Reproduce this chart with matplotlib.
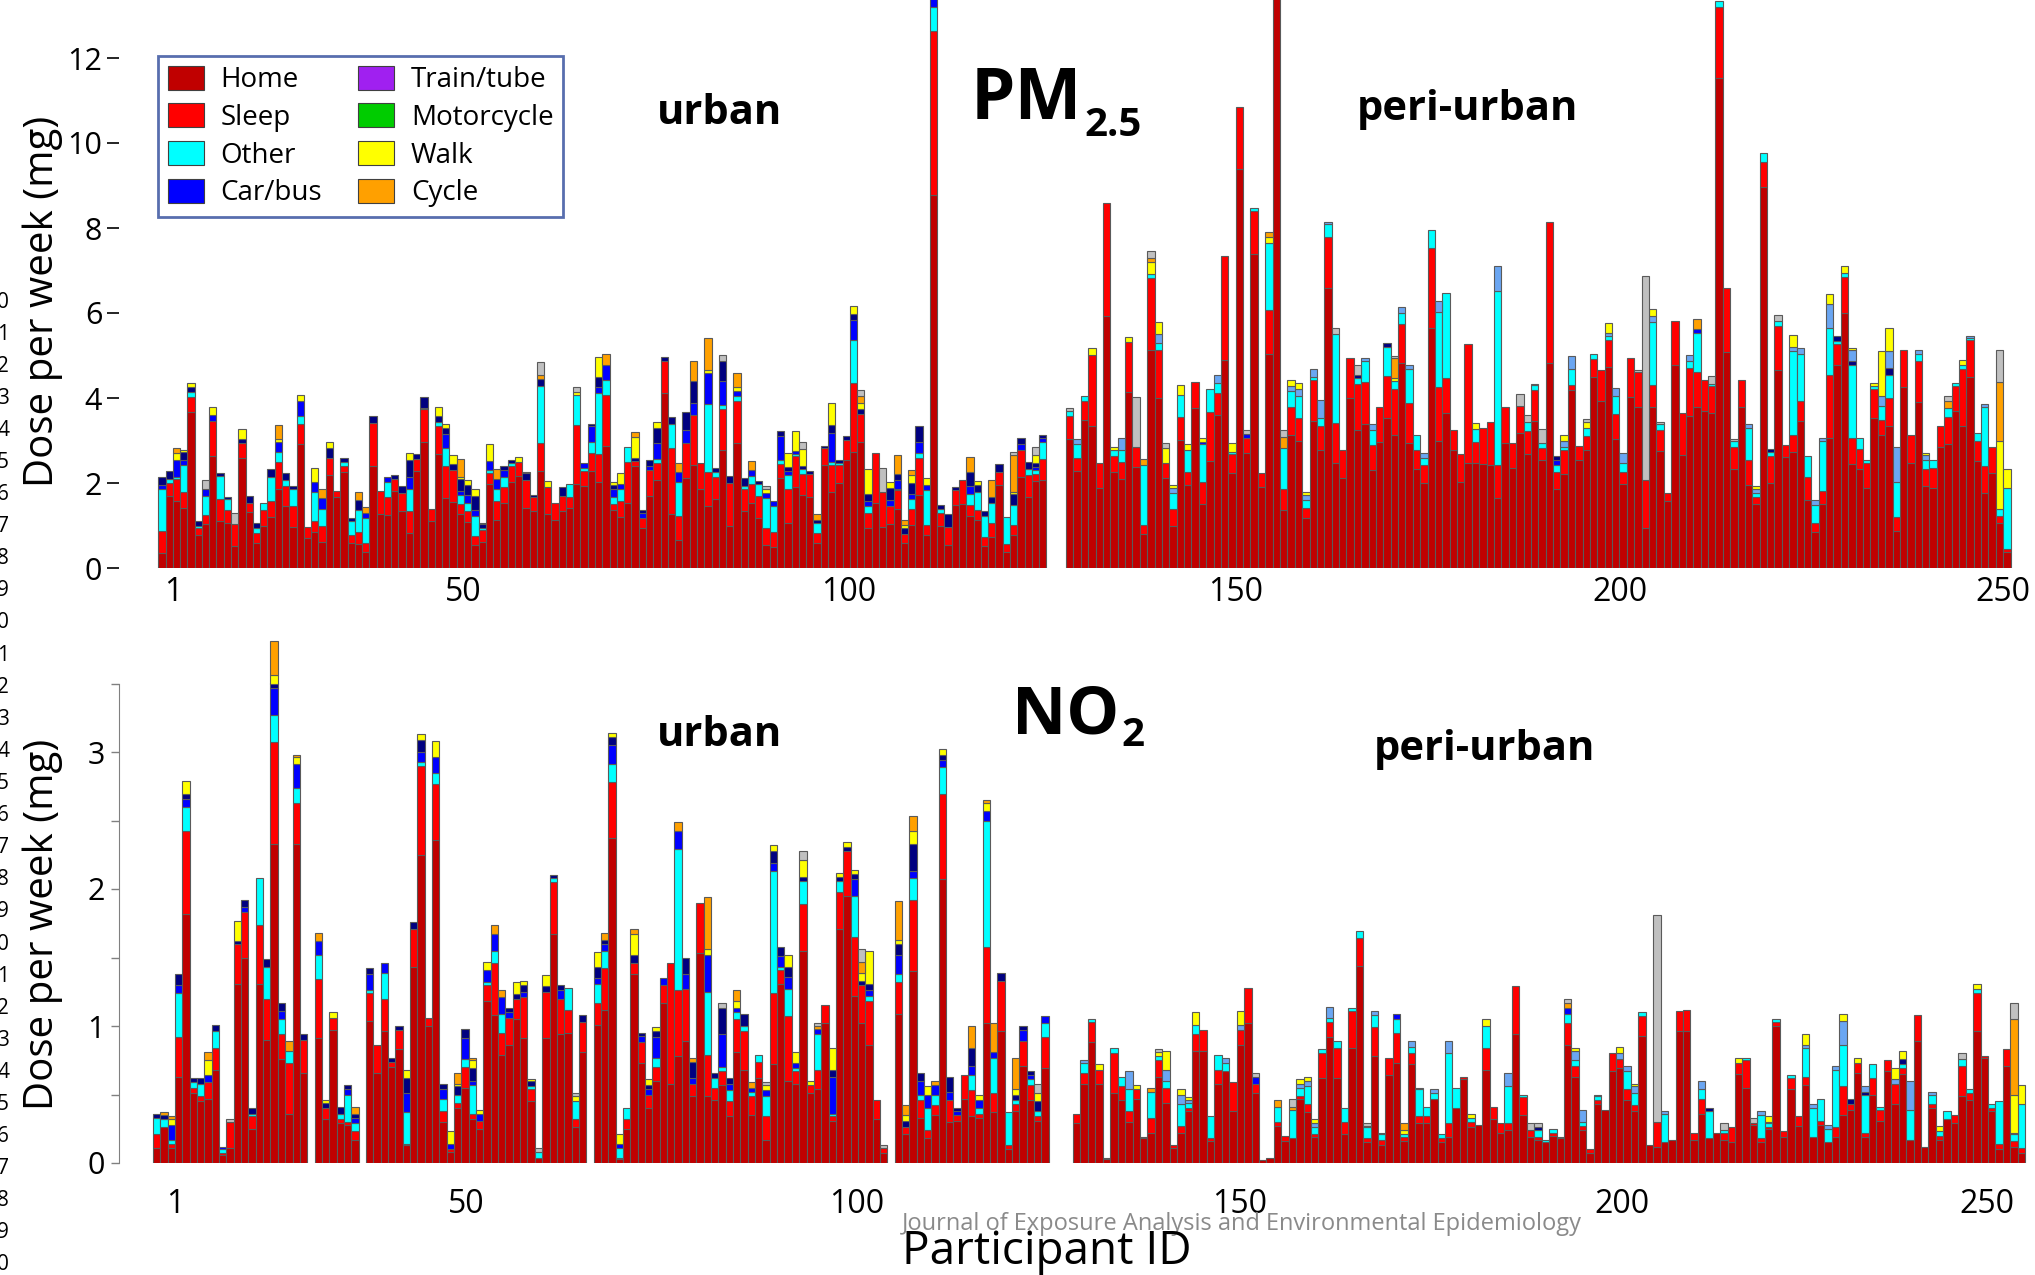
import numpy as np
import matplotlib
matplotlib.use('Agg')
import matplotlib.pyplot as plt
from matplotlib.patches import Patch

plt.rcParams['font.family'] = ['Open Sans', 'DejaVu Sans']

# ---------------- DATA ----------------
# Bars 1-122 = urban participants, bars 123-250 = peri-urban participants
N_URBAN = 122
N_PERI = 128

# ---- PM2.5 (mg / week) ----
PM_HOME_URBAN = [
    .35, 1.69, 1.58, 1.42, 3.66, .77, 1.03, 2.64, 1.11, 1.07,
    .52, 2.6, 1.31, .58, 1.0, 1.19, 1.85, 1.47, .96, 2.91,
    .71, .85, .62, 2.19, 1.66, 2.27, .58, .56, .38, 2.4,
    1.26, 1.24, 1.81, 1.34, .83, 2.29, 2.96, 1.11, 2.68, 1.65,
    1.55, 1.26, 1.09, .54, .62, 1.98, 1.13, 1.54, 2.03, 2.16,
    1.42, 1.35, 2.29, 1.26, 1.13, 1.34, 1.42, 1.98, 1.93, 2.28,
    2.03, 2.87, 1.36, 1.19, 1.52, 2.40, .93, 1.70, 2.07, 4.11,
    1.27, .66, 2.11, 2.42, 1.85, 1.47, 1.62, 2.78, .99, 2.93,
    1.34, 1.52, 1.17, .54, .50, 2.11, 1.05, 1.90, 1.72, 1.67,
    .58, 2.42, 1.79, 2.0, 2.55, 2.73, 2.96, .93, 1.52, .96,
    1.03, 1.39, .58, 1.02, 1.72, .78, 8.77, .98, .54, 1.48,
    1.51, 1.22, 1.13, .52, .74, 1.96, .37, .78, 2.13, 1.66,
    2.05, 2.06]
PM_HOME_PERI = [
    3.03, 2.29, 3.48, 3.35, 1.88, 5.92, 2.26, 2.09, 4.14, 2.37,
    .80, 5.12, 4.01, 2.11, .98, 3.01, 1.96, 3.77, 1.50, 2.52,
    3.61, 4.90, 2.23, 9.40, 2.70, 7.39, 1.91, 5.03, 14.0, 1.37,
    3.13, 3.0, 1.18, 3.46, 2.78, 6.59, 2.46, 2.11, 3.99, 3.25,
    3.38, 2.30, 2.97, 3.53, 3.14, 4.82, 2.95, 2.34, 1.99, 5.65,
    2.99, 3.64, 2.77, 2.03, 2.47, 2.47, 2.45, 2.42, 1.64, 2.95,
    2.35, 3.18, 2.69, 3.47, 2.54, 4.82, 1.86, 2.21, 4.2, 2.53,
    2.77, 4.49, 3.92, 4.73, 3.03, 1.97, 4.02, 3.79, .94, 3.78,
    2.76, 1.58, 4.78, 2.66, 3.58, 3.79, 3.70, 3.64, 11.52, 5.08,
    2.33, 3.79, 1.95, 1.50, 8.96, 2.01, 4.66, 2.61, 2.74, 3.45,
    1.59, .85, 1.50, 3.07, 4.77, 5.99, 2.44, 2.33, 1.89, 3.53,
    3.13, 3.35, .87, 4.25, 2.48, 3.90, 1.94, 1.89, 2.85, 2.91,
    3.70, 3.33, 4.49, 2.52, 1.76, 2.23, 1.05, .37]
PM_SLEEP_URBAN = [
    .53, .31, .51, .36, .37, .16, .22, .82, .51, .29,
    .51, .33, .23, .25, .36, .39, .64, .47, .51, .47,
    .26, .26, .38, .41, .16, .13, .20, .28, .20, 1.02,
    .56, .44, .28, .42, .51, .27, .77, .29, .65, .76,
    .76, .24, .26, .21, .27, .25, .45, .37, .37, .34,
    .65, .31, .64, .65, .41, .35, .26, 1.38, .35, .42,
    .65, 1.20, .15, .39, .98, .12, .24, .61, .39, .77,
    1.55, .56, .82, 1.18, .61, .78, .51, .95, 1.0, 1.01,
    .53, .46, .52, .39, .34, .33, .80, .74, .50, .55,
    .25, .41, .63, .42, .47, 1.63, .67, .36, 1.18, .84,
    .42, .44, .23, .37, .88, .24, 3.86, .31, .42, .35,
    .55, .26, .24, .22, .31, .30, .20, .24, .64, .52,
    .17, .51]
PM_SLEEP_PERI = [
    .55, .30, .46, 1.66, .60, 2.67, .38, .41, 1.18, .47,
    .22, 1.70, 1.11, .35, .41, .54, .31, .61, .52, 1.16,
    .51, 2.45, .45, 1.44, .35, 1.02, .32, 1.03, 0, .50,
    .66, .53, .23, .96, .57, 1.19, .96, .66, .96, 1.09,
    1.0, .60, .82, .98, 1.07, .93, .94, .43, .43, 1.89,
    1.28, .83, .48, .66, 2.79, .50, .85, 1.01, .78, .85,
    .58, .64, .54, .72, .28, 3.33, .39, .56, .1, .33,
    .33, .42, .75, .63, .59, .28, .93, .83, 1.12, .52,
    .49, .19, 1.04, .98, 1.13, .83, .73, .65, 1.68, 1.52,
    .52, .63, .60, .18, .60, .63, 1.03, .29, .38, .49,
    .55, .21, .31, 1.48, .50, .85, .63, .48, .57, .69,
    .36, .64, .33, .87, .64, .96, .39, .47, .50, .64,
    .59, 1.36, .87, .46, .63, .62, .17, .08]
PM_OTHER_URBAN = [
    .97, .09, .04, .64, .10, .07, .44, 0, .54, .26,
    0, 0, 0, .10, .16, .57, .23, .13, .38, .20,
    0, .69, .40, 0, 0, .10, .33, .52, .59, 0,
    0, .35, 0, 0, .53, 0, .04, 0, .11, .41,
    0, .22, .19, .47, .04, .08, .29, .22, .06, 0,
    0, 0, 1.35, 0, 0, 0, .30, .71, .08, .27,
    1.43, .35, .15, .27, .35, 0, 0, 0, .10, 0,
    .58, .81, 0, 0, 0, 1.62, .14, .11, 0, .11,
    .05, .19, .29, .72, .62, .10, .34, .04, .11, 0,
    .22, 0, .08, .06, 0, 1.0, 0, .17, 0, 0,
    0, .04, 0, .24, .10, .81, .57, .09, 0, 0,
    0, .26, .43, .48, .47, 0, .62, .46, 0, .15,
    .08, .39]
PM_OTHER_PERI = [
    .12, .32, .11, 0, 0, 0, .13, .28, 0, 0,
    1.40, .09, .18, 0, .37, .51, .50, 0, .90, .53,
    .23, 0, .05, 0, 0, .07, 0, 1.58, 0, .96,
    .37, .52, .18, .07, .18, .31, 2.08, 0, 0, .13,
    .48, .35, 0, .68, .18, .25, .80, .35, .18, .42,
    1.75, 2.01, 0, 0, 0, .30, 0, 0, 4.10, 0,
    0, 0, .20, .11, .13, 0, .17, .07, .39, 0,
    .20, .13, 0, .10, .42, .22, 0, 0, 0, 1.48,
    .13, 0, 0, 0, .15, .92, 0, .04, .15, 0,
    .13, 0, .74, .08, .20, .08, .13, 0, 1.98, 1.09,
    .50, .42, 1.17, 1.10, .07, .09, 1.70, .26, .09, .06,
    .32, .56, .82, 0, 0, .17, .22, .19, 0, .22,
    .07, .08, .06, .20, 1.40, 0, .18, 1.44]
# sparse layers: {bar number (1-250): dose}
PM_CARBUS = {1: .10, 3: .41, 4: .12, 7: .16, 8: .14, 17: .24, 20: .36, 22: .23, 23: .24,
             29: .12, 32: .12, 35: .28, 40: .33, 42: .10, 43: .18, 44: .14, 46: .21,
             47: .22, 48: .18, 59: .12, 60: .36, 61: .14, 62: .36, 63: .21, 64: .12,
             67: .12, 68: .10, 69: .37, 72: .24, 73: .32, 74: .29, 76: .73, 78: .57,
             80: .11, 82: .14, 84: .12, 85: .12, 86: .57, 87: .09, 88: .08, 93: .68,
             96: .48, 98: .11, 101: .16, 102: .20, 104: .11, 105: .26, 106: .13,
             107: .50, 112: .18, 119: .15, 121: .08, 122: .11,
             141: .05, 147: .11, 189: .13, 208: .08}
PM_NAVY = {1: .18, 2: .19, 4: .18, 5: .12, 6: .11, 9: .08, 10: .06, 12: .11, 13: .16,
           14: .14, 16: .17, 18: .17, 19: .09, 24: .22, 26: .10, 27: .07, 28: .24,
           30: .16, 33: .10, 34: .18, 35: .39, 36: .12, 37: .26, 39: .14, 40: .14,
           41: .13, 42: .27, 43: .23, 44: .33, 45: .11, 48: .10, 49: .08, 51: .16,
           52: .06, 53: .17, 56: .22, 60: .07, 61: .24, 63: .08, 66: .08, 67: .07,
           68: .13, 69: .36, 70: .09, 71: .15, 73: .43, 74: .51, 77: .08, 78: .47,
           79: .17, 81: .19, 83: .07, 86: .12, 87: .10, 89: .08, 90: .07, 91: .08,
           92: .04, 93: .19, 94: .06, 95: .09, 96: .13, 97: .12, 98: .17, 101: .28,
           102: .15, 103: .12, 104: .26, 105: .39, 108: .10, 109: .30, 110: .07,
           112: .34, 113: .16, 114: .11, 115: .14, 116: .18, 118: .26, 119: .13,
           120: .17, 121: .08, 122: .07,
           162: .08, 166: .11, 189: .09, 218: .09, 227: .11, 229: .09, 234: .15}
PM_LTBLUE = {124: .12, 130: .27, 135: .20, 137: .13, 143: .20, 153: .13, 154: .17,
             155: .13, 156: .20, 157: .43, 158: .06, 163: .09, 164: .13, 168: .15,
             169: .09, 171: .11, 173: .27, 181: .59, 190: .15, 191: .31, 196: .06,
             197: .19, 198: .24, 202: .15, 207: .15, 215: .10, 216: .09, 221: .11,
             222: .14, 224: .11, 225: .09, 226: .56, 229: .26, 233: .24, 234: .40,
             235: .82, 238: .11, 239: .10, 245: .05, 247: .07}
PM_WALK = {3: .17, 4: .06, 5: .10, 8: .18, 12: .22, 17: .07, 20: .13, 22: .32, 24: .14,
           35: .16, 39: .22, 40: .10, 41: .23, 42: .05, 43: .12, 44: .18, 45: .03,
           46: .40, 50: .12, 51: .04, 54: .14, 58: .08, 61: .48, 63: .07, 64: .26,
           66: .49, 69: .15, 76: .07, 80: .11, 84: .09, 87: .33, 88: .46, 89: .38,
           93: .52, 96: .19, 97: .13, 98: .59, 101: .13, 103: .09, 104: .18, 106: .15,
           113: .09, 118: .06, 121: .20,
           126: .16, 129: .07, 131: .11, 134: .28, 135: .28, 136: .37, 137: .06,
           138: .25, 139: .15, 141: .08, 145: .21, 150: .14, 153: .13, 154: .13,
           155: .07, 167: .08, 178: .14, 186: .04, 190: .13, 193: .13, 196: .24,
           202: .16, 216: .09, 221: .28, 226: .24, 228: .17, 229: .06, 232: .07,
           233: 1.05, 234: .55, 239: .06, 244: .12, 249: 1.58, 250: .44}
PM_CYCLE = {3: .12, 17: .33, 23: .21, 28: .18, 29: .14, 42: .42, 47: .24, 53: .09,
            62: .26, 66: .12, 72: .21, 74: .47, 76: .75, 80: .31, 82: .21, 91: .13,
            97: .17, 102: .45, 103: .11, 104: .13, 112: .35, 115: .41, 118: .87,
            133: .15, 134: .11, 150: .13, 152: .26, 167: .48, 208: .23, 242: .16,
            249: 1.40}
PM_GREY = {7: .22, 11: .27, 53: .31, 58: .12, 78: .13, 84: .08, 89: .17, 97: .13,
           100: .55, 118: .07, 121: .19,
           123: .07, 132: 1.19, 134: .16, 136: .11, 147: .09, 152: .16, 159: .15,
           162: .22, 167: .05, 184: .27, 185: .17, 187: .33, 193: .08, 200: .04,
           201: 4.81, 203: .06, 210: .18, 213: .05, 219: .13, 242: .12, 249: .74}

# ---- NO2 (mg / week) ----
NO2_HOME_URBAN = [
    .11, .26, .11, .63, 1.82, .51, .45, .47, .68, .06,
    .11, 1.31, 1.50, .25, 1.31, .90, 2.33, .76, .36, 2.33,
    .66, 0, .91, .32, .97, .29, .28, .17, 0, 1.04,
    .66, .96, .70, .83, .13, 1.43, 2.25, 1.0, 2.36, .30,
    .08, .40, .55, .32, .25, 1.18, 1.08, .79, .86, 1.05,
    .91, .45, .04, .91, 1.67, .94, .95, .26, .81, 0,
    1.01, 1.12, 2.37, .03, .25, 1.38, .73, .40, .60, 1.17,
    .58, .78, .89, .49, 1.53, .49, .46, .57, .34, .81,
    .68, .35, .62, .17, .72, 1.31, .60, .58, 1.55, .51,
    .54, 1.02, .31, 1.71, 1.95, 1.22, 1.02, .86, .32, .07,
    0, 1.09, .21, 1.40, .33, .18, .35, 2.07, .30, .31,
    .47, .34, .33, 1.02, .37, .96, .10, .38, .71, .46,
    .31, .69]
NO2_HOME_PERI = [
    .29, .58, .88, .58, .03, .51, .46, .30, .47, .18,
    .22, .63, .44, .11, .22, .38, .82, .82, .16, .58,
    .67, .38, .86, 1.02, .51, .02, .04, .27, .16, .18,
    .47, .37, .19, .62, .92, .62, .21, .84, 1.44, .15,
    .78, .13, .64, .73, .16, .72, .29, .29, .47, .15,
    .19, .40, .61, .26, .28, .68, .32, .22, .24, .94,
    .35, .19, .17, .15, .20, .18, .86, .63, .24, .07,
    .43, .39, .67, .69, .46, .38, .93, .13, .12, .15,
    .17, .96, .96, .17, .36, .18, .22, .17, .15, .65,
    .55, .28, .15, .25, 1.0, .19, .54, .27, .57, .19,
    .28, .15, .19, .35, .39, .66, .19, .50, .31, .67,
    .43, .65, .17, .89, .12, .40, .17, .32, .29, .49,
    .46, .96, .77, .38, .10, .71, .12, .07]
NO2_SLEEP_URBAN = [
    .10, 0, .03, .29, .60, .04, .04, .12, .16, .01,
    .19, .29, .33, .09, .43, .30, .74, .18, .37, .30,
    .24, 0, .43, .08, .09, .03, .02, .06, 0, .20,
    .20, .24, .04, .14, .01, .28, .65, .06, .41, .08,
    .02, .04, .15, .04, .06, .12, .38, .16, .20, .15,
    .30, .09, 0, .34, .38, .26, .17, .06, .22, 0,
    .16, .30, .41, .01, .07, .08, .15, .10, .10, .13,
    .88, .48, .38, .09, .37, .30, .09, .10, .11, .24,
    .28, .14, .12, .17, .52, .10, .47, .09, .34, .06,
    .14, .13, .03, .27, .33, .43, .28, .32, .14, .04,
    0, .23, .05, .52, .13, .06, .07, .62, .16, .04,
    .17, .19, .03, .56, .14, .37, .03, .05, .18, .11,
    .03, .23]
NO2_SLEEP_PERI = [
    .07, .08, .15, .10, .01, .29, .10, .08, .07, .01,
    .11, .12, .11, .02, .05, .02, .12, .15, .02, .10,
    0, .21, .11, .26, .07, 0, 0, .03, .04, 0,
    .02, .06, .02, .18, .11, .22, .09, .27, .20, .03,
    .21, .04, .13, .22, .03, .08, .05, .05, 0, .03,
    .10, 0, .02, .04, 0, .16, .09, .07, .05, .35,
    .13, .05, .02, 0, .02, .01, .16, .08, .03, .03,
    .03, 0, .13, .07, .08, .04, .14, 0, .18, 0,
    0, .15, .16, .05, .11, 0, 0, .05, .11, .08,
    .20, .01, .03, .01, .03, .04, .08, .07, .06, 0,
    .03, 0, .07, .21, .04, .07, .03, .12, .08, .08,
    .15, .04, 0, .19, 0, .03, .03, 0, .06, .22,
    .05, .28, .01, .02, .04, .12, .04, .04]
NO2_OTHER_URBAN = [
    .12, .06, .03, .32, .18, .04, .09, 0, .12, .03,
    0, 0, 0, .02, .34, .23, .20, .11, .09, .11,
    0, 0, .18, 0, 0, .04, .20, .06, 0, .02,
    0, .19, 0, 0, .23, 0, .03, 0, .08, .09,
    0, .06, .06, .21, 0, .02, .09, .14, 0, 0,
    0, .02, .04, 0, .03, 0, .16, .13, 0, 0,
    .14, .13, .13, .07, .08, 0, 0, 0, .07, 0,
    0, 1.03, 0, 0, 0, .46, .07, .03, .08, .05,
    .04, .03, .05, .15, .89, .02, .20, .02, .17, 0,
    .26, 0, .02, .08, 0, .30, 0, .04, 0, 0,
    0, .06, 0, .16, .04, .16, .08, .20, 0, 0,
    0, .11, .04, .92, .26, 0, .24, .03, 0, .04,
    .04, .10]
NO2_OTHER_PERI = [
    0, .07, .02, 0, 0, .04, .07, .16, 0, 0,
    .19, .03, .05, 0, .16, .04, .07, 0, .16, .11,
    .06, 0, 0, 0, 0, 0, 0, .11, 0, .21,
    .06, .13, .05, .03, .03, .05, .10, .02, .05, .08,
    .09, .04, 0, .10, .02, .05, .20, .07, .04, .03,
    .51, .15, 0, .03, 0, .16, 0, 0, .27, 0,
    .02, 0, .05, .02, .03, 0, .07, .04, .03, 0,
    .03, 0, 0, 0, .13, .09, .03, 0, 0, .21,
    0, 0, 0, 0, .07, .20, 0, .02, 0, 0,
    .02, 0, .17, .03, .02, 0, .02, 0, .21, .21,
    .16, .10, .42, .30, 0, 0, .28, .10, .02, 0,
    0, .03, .22, 0, 0, .07, .03, .06, 0, .05,
    .03, .03, 0, .03, .31, 0, .05, .32]
NO2_CARBUS = {3: .11, 4: .06, 5: .06, 8: .05, 10: .02, 13: .04, 17: .20, 18: .06, 20: .17,
              23: .10, 27: .04, 28: .04, 30: .12, 32: .07, 35: .14, 37: .07, 39: .11,
              40: .07, 41: .04, 43: .15, 44: .03, 45: .05, 46: .09, 47: .12, 48: .12,
              49: .04, 51: .04, 56: .06, 61: .04, 62: .05, 63: .14, 64: .03, 67: .05,
              68: .04, 69: .15, 70: .05, 72: .13, 73: .11, 74: .04, 76: .27, 78: .24,
              79: .05, 80: .03, 82: .03, 84: .04, 85: .06, 86: .08, 87: .09, 88: .04,
              91: .04, 93: .27, 96: .12, 98: .04, 102: .14, 104: .05, 105: .10,
              106: .10, 107: .07, 108: .05, 109: .06, 110: .03, 112: .07, 113: .06,
              114: .07, 115: .04, 119: .08, 120: .03, 122: .05,
              147: .05, 162: .01, 166: .04, 189: .04}
NO2_NAVY = {1: .03, 2: .03, 4: .08, 5: .03, 6: .03, 7: .04, 9: .05, 12: .02, 13: .05,
            14: .04, 16: .06, 17: .03, 18: .06, 21: .04, 24: .04, 26: .05, 27: .03,
            28: .03, 30: .04, 33: .03, 34: .03, 35: .11, 36: .05, 37: .09, 40: .04,
            42: .06, 43: .07, 44: .09, 49: .03, 50: .03, 51: .05, 52: .04, 54: .04,
            55: .02, 56: .04, 59: .05, 61: .08, 62: .03, 63: .06, 66: .06, 67: .02,
            68: .03, 69: .04, 73: .12, 74: .12, 77: .04, 78: .19, 79: .04, 81: .09,
            85: .09, 86: .07, 87: .07, 89: .03, 93: .05, 94: .03, 95: .03, 96: .04,
            97: .03, 98: .05, 102: .08, 103: .05, 104: .20, 105: .06, 108: .04,
            109: .11, 110: .02, 112: .13, 116: .06, 118: .04, 119: .03, 120: .03,
            121: .07,
            185: .02, 193: .01, 208: .02, 227: .04, 229: .02, 234: .04, 249: .01}
NO2_LTBLUE = {124: .02, 130: .13, 135: .08, 137: .07, 138: .02, 143: .04, 145: .04,
              153: .03, 154: .04, 155: .03, 157: .08, 163: .03, 164: .01, 168: .04,
              169: .01, 171: .03, 173: .09, 181: .10, 190: .07, 191: .09, 196: .04,
              197: .04, 198: .05, 202: .02, 207: .06, 215: .03, 216: .01, 221: .02,
              222: .03, 224: .03, 225: .03, 226: .18, 229: .04, 233: .03, 235: .21,
              238: .02}
NO2_WALK = {3: .04, 5: .10, 8: .11, 12: .15, 17: .06, 20: .05, 24: .02, 25: .04, 35: .06,
            37: .04, 39: .12, 41: .09, 42: .02, 44: .06, 45: .03, 46: .06, 50: .09,
            51: .03, 52: .01, 54: .08, 58: .04, 61: .11, 63: .03, 64: .07, 66: .15,
            68: .04, 69: .03, 76: .04, 80: .05, 84: .04, 85: .04, 87: .09, 88: .08,
            89: .12, 90: .03, 93: .16, 94: .03, 95: .03, 96: .03, 97: .06, 98: .24,
            102: .03, 103: .04, 104: .09, 106: .06, 108: .04, 113: .04, 114: .06,
            118: .04, 121: .06,
            126: .04, 131: .03, 134: .03, 135: .14, 137: .04, 138: .02, 139: .09,
            145: .10, 153: .03, 154: .03, 155: .03, 167: .03, 176: .03, 178: .05,
            190: .02, 196: .05, 198: .02, 212: .04, 216: .04, 221: .08, 226: .05,
            228: .04, 233: .08, 234: .06, 239: .04, 244: .04, 249: .28, 250: .14}
NO2_CYCLE = {2: .02, 3: .02, 8: .06, 17: .25, 19: .07, 20: .02, 23: .06, 28: .05, 42: .08,
             44: .02, 47: .07, 48: .05, 62: .05, 66: .04, 72: .07, 74: .03, 76: .38,
             80: .08, 82: .04, 91: .02, 97: .08, 102: .28, 103: .07, 104: .11, 107: .03,
             112: .16, 114: .02, 115: .21, 118: .23,
             133: .03, 150: .05, 152: .02, 167: .05, 189: .04, 249: .55}
NO2_GREY = {11: .02, 53: .03, 58: .02, 78: .04, 84: .02, 89: .07, 91: .02, 97: .09,
            100: .02, 121: .07,
            134: .02, 147: .03, 152: .06, 162: .02, 184: .05, 185: .03, 189: .03,
            201: 1.51, 210: .05, 214: .04, 242: .04, 249: .12}

X_TICK_LABELS = ['1', '50', '100', '150', '200', '250']

# ---------------- STYLE ----------------
C_HOME, C_SLEEP, C_OTHER = '#C00000', '#FF0000', '#00FFFF'
C_CARBUS, C_NAVY, C_LTBLUE = '#0000FF', '#000080', '#6AA6F2'
C_WALK, C_CYCLE, C_GREY = '#FFFF00', '#FFA000', '#C0C0C0'
C_TRAIN, C_MOTO = '#A020F0', '#00CC00'
EDGE = '#5a5a5a'

W, H = 2035, 1275
fig = plt.figure(figsize=(W / 100, H / 100), dpi=100)


def dense(d, n=N_URBAN + N_PERI):
    arr = np.zeros(n)
    for k, v in d.items():
        arr[k - 1] = v
    return arr


def draw_panel(ax, home, sleep, other, carbus, navy, ltblue, walk, cycle, grey,
               peri_start, peri_pitch):
    xpos = np.concatenate([np.arange(1, N_URBAN + 1, dtype=float),
                           peri_start + np.arange(N_PERI) * peri_pitch])
    widths = np.concatenate([np.full(N_URBAN, 1.0), np.full(N_PERI, 1.0 * peri_pitch)])
    layers = [(home, C_HOME), (sleep, C_SLEEP), (other, C_OTHER),
              (dense(carbus), C_CARBUS), (dense(navy), C_NAVY),
              (dense(ltblue), C_LTBLUE), (dense(walk), C_WALK),
              (dense(cycle), C_CYCLE), (dense(grey), C_GREY)]
    bottom = np.zeros(len(xpos))
    for vals, color in layers:
        vals = np.asarray(vals, dtype=float)
        m = vals > 0
        ax.bar(xpos[m], vals[m], width=widths[m], bottom=bottom[m], color=color,
               edgecolor=EDGE, linewidth=0.8, align='center', zorder=2)
        bottom += vals


# ---- top panel: PM2.5 ----
ax1 = fig.add_axes([119 / W, 1 - 568 / H, (W - 119) / W, 568 / H])
draw_panel(ax1,
           np.array(PM_HOME_URBAN + PM_HOME_PERI),
           np.array(PM_SLEEP_URBAN + PM_SLEEP_PERI),
           np.array(PM_OTHER_URBAN + PM_OTHER_PERI),
           PM_CARBUS, PM_NAVY, PM_LTBLUE, PM_WALK, PM_CYCLE, PM_GREY,
           peri_start=125.7, peri_pitch=1.0137)
ax1.set_xlim(-4.89, 258.3)
ax1.set_ylim(0, 568 / 42.5)
ax1.set_yticks([0, 2, 4, 6, 8, 10, 12])
ax1.set_xticks([2.5, 42.4, 95.3, 148.5, 201.3, 253.9])
ax1.set_xticklabels(X_TICK_LABELS)
for s in ['top', 'right', 'bottom', 'left']:
    ax1.spines[s].set_visible(False)
ax1.tick_params(axis='y', labelsize=22, length=9, width=1.2, direction='out', pad=3)
ax1.tick_params(axis='x', labelsize=23, length=0, pad=6)
ax1.set_ylabel('Dose per week (mg)', fontsize=29)
ax1.yaxis.set_label_coords(-0.029, 0.47)

# ---- bottom panel: NO2 ----
ax2 = fig.add_axes([119 / W, 1 - 1163 / H, (W - 119) / W, (1163 - 620) / H])
draw_panel(ax2,
           np.array(NO2_HOME_URBAN + NO2_HOME_PERI),
           np.array(NO2_SLEEP_URBAN + NO2_SLEEP_PERI),
           np.array(NO2_OTHER_URBAN + NO2_OTHER_PERI),
           NO2_CARBUS, NO2_NAVY, NO2_LTBLUE, NO2_WALK, NO2_CYCLE, NO2_GREY,
           peri_start=126.3, peri_pitch=1.013)
ax2.set_xlim(-4.13, 256.8)
ax2.set_ylim(0, 543 / 137.0)
ax2.set_yticks([0, 1, 2, 3])
ax2.set_yticks([0.5, 1.5, 2.5, 3.5], minor=True)
ax2.set_xticks([3.5, 43.1, 96.3, 148.5, 200.5, 250.3])
ax2.set_xticklabels(X_TICK_LABELS)
for s in ['top', 'right', 'bottom']:
    ax2.spines[s].set_visible(False)
ax2.spines['left'].set_bounds(0, 3.5)
ax2.spines['left'].set_color('#808080')
ax2.tick_params(axis='y', which='both', labelsize=22, length=6, width=1.0,
                color='#808080', direction='out', pad=4)
ax2.tick_params(axis='x', labelsize=23, length=0, pad=18)
ax2.set_ylabel('Dose per week (mg)', fontsize=29)
ax2.yaxis.set_label_coords(-0.029, 0.44)


# ---- titles ----
def ftxt(x, y, s, **kw):
    return fig.text(x / W, 1 - y / H, s, **kw)


renderer = fig.canvas.get_renderer()


def title_with_sub(x, y, main, sub, dy, size):
    t = ftxt(x, y, main, fontsize=size, fontweight='bold', ha='left', va='baseline')
    bb = t.get_window_extent(renderer=renderer)
    ftxt(bb.x1 + 2, y + dy, sub, fontsize=29, fontweight='bold', ha='left', va='baseline')


title_with_sub(971, 119, 'PM', '2.5', 17, 51)
title_with_sub(1012, 733, 'NO', '2', 13, 48)
ftxt(720, 114, 'urban', fontsize=30, fontweight='bold', ha='center', va='center')
ftxt(1467, 110, 'peri-urban', fontsize=30, fontweight='bold', ha='center', va='center')
ftxt(720, 736, 'urban', fontsize=30, fontweight='bold', ha='center', va='center')
ftxt(1484, 750, 'peri-urban', fontsize=30, fontweight='bold', ha='center', va='center')
ftxt(1242, 1224, 'Journal of Exposure Analysis and Environmental Epidemiology',
     fontsize=17, color='#8a8a8a', ha='center', va='center')
ftxt(1047, 1252, 'Participant ID', fontsize=33, ha='center', va='center')

# cut-off line numbers at the left edge
for k in range(31):
    ftxt(3, 302 + k * 32.1, str(k % 10), fontsize=15, ha='center', va='center')

# ---- legend ----
handles = [Patch(facecolor=c, edgecolor='#404040', linewidth=0.8) for c in
           [C_HOME, C_SLEEP, C_OTHER, C_CARBUS, C_TRAIN, C_MOTO, C_WALK, C_CYCLE]]
labels = ['Home', 'Sleep', 'Other', 'Car/bus', 'Train/tube', 'Motorcycle', 'Walk', 'Cycle']
leg = fig.legend(handles, labels, ncol=2, loc='upper left',
                 bbox_to_anchor=(158 / W, 1 - 56 / H), fontsize=20, frameon=True,
                 fancybox=False, edgecolor='#2E4A9A', handlelength=1.3,
                 handleheight=0.95, labelspacing=0.33, columnspacing=1.3,
                 handletextpad=0.6, borderpad=0.35, borderaxespad=0)
leg.get_frame().set_linewidth(2.0)

fig.savefig('out.png', dpi=100)
